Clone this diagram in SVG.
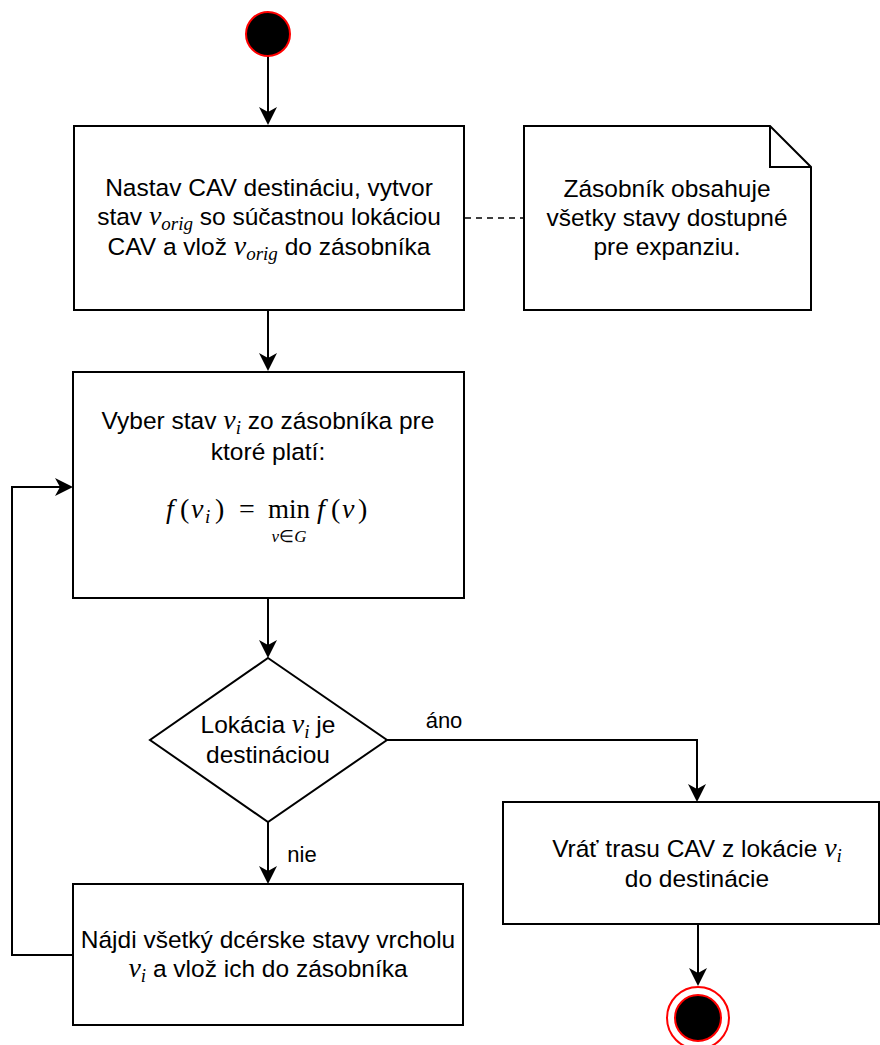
<svg xmlns="http://www.w3.org/2000/svg" width="880" height="1045" viewBox="0 0 880 1045">
  <style>
    .box { fill: #ffffff; stroke: #000000; stroke-width: 2; }
    .edge { fill: none; stroke: #000000; stroke-width: 2; }
    .dash { fill: none; stroke: #000000; stroke-width: 1.5; stroke-dasharray: 6 5; }
    .t { font-family: "Liberation Sans", Arial, sans-serif; font-size: 24.5px; fill: #000000; text-anchor: middle; }
    .lbl { font-family: "Liberation Sans", Arial, sans-serif; font-size: 22px; fill: #000000; text-anchor: middle; }
    .m { font-family: "Liberation Serif", "Times New Roman", serif; font-style: italic; font-size: 28px; }
    .ms { font-family: "Liberation Serif", "Times New Roman", serif; font-style: italic; font-size: 19px; }
    .fm { font-family: "Liberation Serif", "Times New Roman", serif; font-size: 28px; fill: #000000; }
    .fi { font-style: italic; }
    .start { fill: #000000; stroke: #ff0000; stroke-width: 2; }
    .ring { fill: #ffffff; stroke: #ff0000; stroke-width: 2; }
  </style>
  <defs>
    <marker id="arrow" viewBox="0 0 18 18" markerWidth="18" markerHeight="18" refX="5" refY="9" orient="auto" markerUnits="userSpaceOnUse">
      <path d="M0,0 L18,9 L0,18 L5,9 Z" fill="#000000"/>
    </marker>
  </defs>

  <!-- connectors -->
  <g id="connectors">
    <path class="edge" d="M268,56 L268,112" marker-end="url(#arrow)"/>
    <path class="edge" d="M268,311 L268,358" marker-end="url(#arrow)"/>
    <line class="dash" x1="465" y1="218" x2="524" y2="218"/>
    <path class="edge" d="M268,599 L268,645" marker-end="url(#arrow)"/>
    <path class="edge" d="M387,740 L697,740 L697,789" marker-end="url(#arrow)"/>
    <path class="edge" d="M268,822 L268,871" marker-end="url(#arrow)"/>
    <path class="edge" d="M73,955 L12,955 L12,487 L60,487" marker-end="url(#arrow)"/>
    <path class="edge" d="M698,925 L698,973" marker-end="url(#arrow)"/>
    <text class="lbl" x="444" y="728">áno</text>
    <text class="lbl" x="302" y="862">nie</text>
  </g>

  <!-- initial state -->
  <g id="start">
    <circle class="start" cx="268" cy="34" r="22"/>
  </g>

  <!-- set destination and push the origin state -->
  <g id="init">
    <rect class="box" x="74" y="126" width="390" height="184"/>
    <text class="t" x="269" y="196">Nastav CAV destináciu, vytvor</text>
    <text class="t" x="269" y="225">stav <tspan class="m">v</tspan><tspan class="ms" dy="5">orig</tspan><tspan dy="-5"> so súčastnou lokáciou</tspan></text>
    <text class="t" x="269" y="255">CAV a vlož <tspan class="m">v</tspan><tspan class="ms" dy="5">orig</tspan><tspan dy="-5"> do zásobníka</tspan></text>
  </g>

  <!-- note about the stack -->
  <g id="note">
    <path class="box" d="M524,126 L770,126 L811,167 L811,310 L524,310 Z"/>
    <path class="edge" d="M770,126 L770,167 L811,167"/>
    <text class="t" x="667" y="197">Zásobník obsahuje</text>
    <text class="t" x="667" y="226">všetky stavy dostupné</text>
    <text class="t" x="667" y="255">pre expanziu.</text>
  </g>

  <!-- pick the state with minimal f -->
  <g id="select">
    <rect class="box" x="73" y="372" width="391" height="226"/>
    <text class="t" x="268" y="429">Vyber stav <tspan class="m">v</tspan><tspan class="ms" dy="5">i</tspan><tspan dy="-5"> zo zásobníka pre</tspan></text>
    <text class="t" x="268" y="460">ktoré platí:</text>
    <g class="fm">
      <text x="166" y="518" class="fi">f</text>
      <text x="180" y="518">(</text>
      <text x="191" y="518" class="fi">v</text>
      <text x="205" y="523" class="fi" font-size="19">i</text>
      <text x="215" y="518">)</text>
      <text x="247" y="518" text-anchor="middle">=</text>
      <text x="289" y="518" text-anchor="middle" font-size="27">min</text>
      <text x="289" y="542" text-anchor="middle" font-size="17"><tspan class="fi">v</tspan>∈<tspan class="fi">G</tspan></text>
      <text x="317" y="518" class="fi">f</text>
      <text x="331" y="518">(</text>
      <text x="342" y="518" class="fi">v</text>
      <text x="358" y="518">)</text>
    </g>
  </g>

  <!-- destination test -->
  <g id="decision">
    <path class="box" d="M268,658 L387,740 L268,822 L150,740 Z"/>
    <text class="t" x="268" y="733">Lokácia <tspan class="m">v</tspan><tspan class="ms" dy="5">i</tspan><tspan dy="-5"> je</tspan></text>
    <text class="t" x="268" y="763">destináciou</text>
  </g>

  <!-- return the route -->
  <g id="result">
    <rect class="box" x="503" y="802" width="376" height="122"/>
    <text class="t" x="697" y="857">Vráť trasu CAV z lokácie <tspan class="m">v</tspan><tspan class="ms" dy="5">i</tspan></text>
    <text class="t" x="697" y="887">do destinácie</text>
  </g>

  <!-- expand children -->
  <g id="expand">
    <rect class="box" x="73" y="884" width="390" height="141"/>
    <text class="t" x="268" y="948">Nájdi všetký dcérske stavy vrcholu</text>
    <text class="t" x="268" y="977"><tspan class="m">v</tspan><tspan class="ms" dy="5">i</tspan><tspan dy="-5"> a vlož ich do zásobníka</tspan></text>
  </g>

  <!-- final state -->
  <g id="end">
    <circle class="ring" cx="698" cy="1018" r="31"/>
    <circle class="start" cx="698" cy="1018" r="23"/>
  </g>
</svg>
